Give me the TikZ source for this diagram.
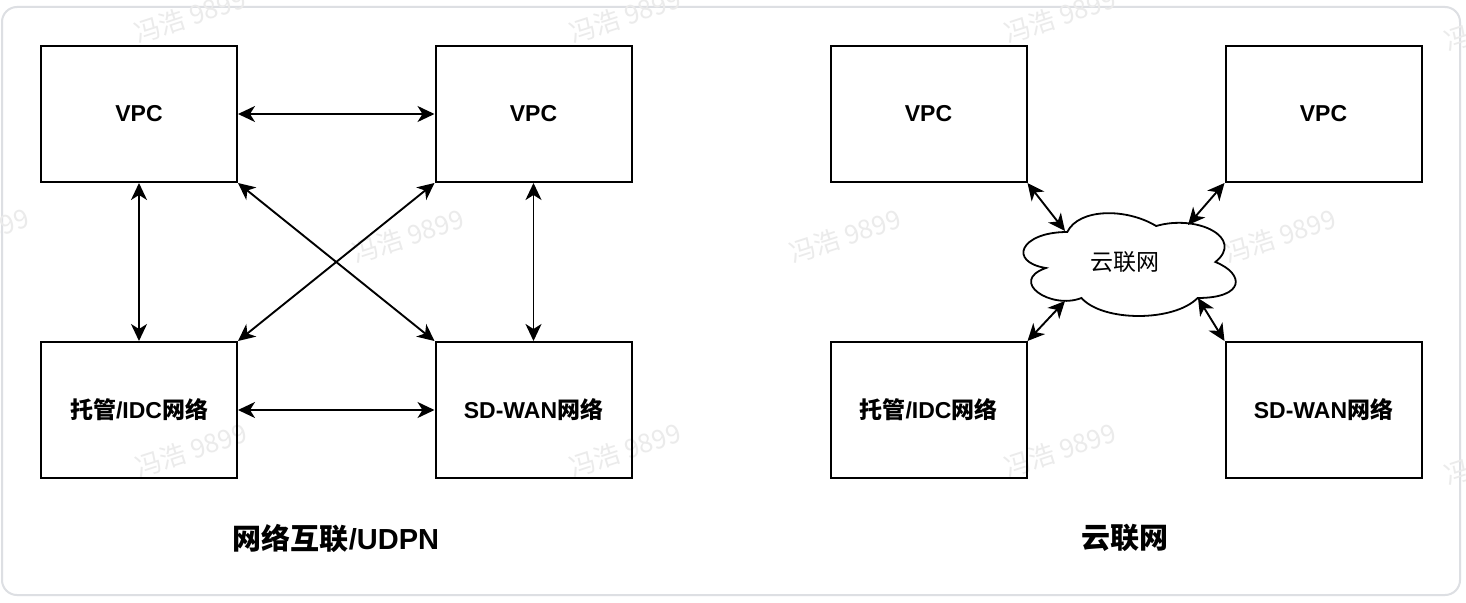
\documentclass[tikz,border=0pt]{standalone}
\usepackage{fontspec}
\setmainfont{Liberation Sans}
\newfontfamily\cjk{Noto Sans CJK SC}
\usetikzlibrary{arrows.meta}
\newcommand\zh[1]{{\cjk #1}}
\definecolor{framegray}{HTML}{DDDFE3}
\tikzset{
  box/.style={draw, line width=2pt, minimum width=196pt, minimum height=136pt,
    inner sep=0pt, font=\fontsize{23}{27}\selectfont\bfseries},
  conn/.style={line width=1.9pt,
    {Stealth[length=17pt,width=16pt,inset=5pt]}-{Stealth[length=17pt,width=16pt,inset=5pt]}},
  cloudline/.style={draw, line width=1.8pt, fill=white},
  wm/.style={font=\cjk\fontsize{26}{30}\selectfont, text=black!8, rotate=18, inner sep=0pt},
  title/.style={font=\fontsize{29}{33}\selectfont\bfseries, inner sep=0pt},
}
\begin{document}
\begin{tikzpicture}[x=1pt,y=-1pt]
\useasboundingbox (0,0) rectangle (1466,602);
\fill[white] (0,0) rectangle (1466,602);
\draw[framegray, line width=2pt, rounded corners=15pt] (2,7) rectangle (1460,595);

% watermarks
\node[wm] (w11) at (190,16) {冯浩 9899};
\node[wm] (w12) at (625,16) {冯浩 9899};
\node[wm] (w13) at (1060,16) {冯浩 9899};
\node[wm] (w14) at (1500,24) {冯浩 9899};
\node[wm] (w21) at (-27,235) {冯浩 9899};
\node[wm] (w22) at (408,236) {冯浩 9899};
\node[wm] (w23) at (845,236) {冯浩 9899};
\node[wm] (w24) at (1280,236) {冯浩 9899};
\node[wm] (w31) at (191,450) {冯浩 9899};
\node[wm] (w32) at (625,450) {冯浩 9899};
\node[wm] (w33) at (1060,450) {冯浩 9899};
\node[wm] (w34) at (1500,458) {冯浩 9899};

% left diagram
\node[box] (lv1) at (139,114) {VPC};
\node[box] (lv2) at (533.5,114) {VPC};
\node[box] (lidc) at (139,410) {\zh{托管}/IDC\zh{网络}};
\node[box] (lsd) at (533.5,410) {SD-WAN\zh{网络}};
\draw[conn] (lv1.east) -- (lv2.west);
\draw[conn] (lidc.east) -- (lsd.west);
\draw[conn] (lv1.south) -- (lidc.north);
\draw[conn] (lv2.south) -- (lsd.north);
\draw[conn] (lv1.south east) -- (lsd.north west);
\draw[conn] (lv2.south west) -- (lidc.north east);
\node[title] (ltitle) at (336,538) {\zh{网络互联}/UDPN};

% right diagram
\node[box] (rv1) at (928.5,114) {VPC};
\node[box] (rv2) at (1323.5,114) {VPC};
\node[box] (ridc) at (928.5,410) {\zh{托管}/IDC\zh{网络}};
\node[box] (rsd) at (1323.5,410) {SD-WAN\zh{网络}};

\begin{scope}[shift={(1008,202)}, x=237pt, y=-120pt]
\draw[cloudline] (0.25,0.25) .. controls (0.05,0.25) and (0,0.5) .. (0.16,0.55)
  .. controls (0,0.66) and (0.18,0.9) .. (0.31,0.8)
  .. controls (0.4,1) and (0.7,1) .. (0.8,0.8)
  .. controls (1,0.8) and (1,0.6) .. (0.875,0.5)
  .. controls (1,0.3) and (0.8,0.1) .. (0.625,0.2)
  .. controls (0.5,0.05) and (0.3,0.05) .. (0.25,0.25) -- cycle;
\end{scope}
\node[font=\cjk\fontsize{23}{27}\selectfont, inner sep=0pt] (cloud) at (1125,262) {云联网};
\coordinate (ctl) at (1065,231);
\coordinate (ctr) at (1188,225);
\coordinate (cbl) at (1065,301);
\coordinate (cbr) at (1198,298);
\draw[conn] (rv1.south east) -- (ctl);
\draw[conn] (rv2.south west) -- (ctr);
\draw[conn] (ridc.north east) -- (cbl);
\draw[conn] (rsd.north west) -- (cbr);
\node[title] (rtitle) at (1125,538) {\zh{云联网}};
\end{tikzpicture}
\end{document}
